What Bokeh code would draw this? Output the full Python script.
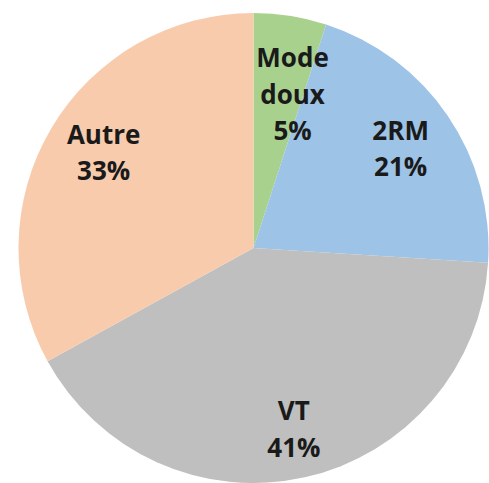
import math
from bokeh.plotting import figure
from bokeh.models import ColumnDataSource, Range1d
from bokeh.core.properties import value
from bokeh.embed import file_html
from bokeh.resources import INLINE

# ---- data ----
categories = ["Mode doux", "2RM", "VT", "Autre"]
label_words = [["Mode", "doux"], ["2RM"], ["VT"], ["Autre"]]
shares = [5, 21, 41, 33]
colors = ["#A9D18E", "#9DC3E6", "#BFBFBF", "#F8CBAD"]

# ---- layout (label placement, not data) ----
label_r = [0.677, 0.757, 0.787, 0.757]
label_nudge_deg = [5.2, 0.0, 0.0, 2.0]
line_step = 36.5
R = 235.0
CX, CY = 253.0, 247.5   # pie centre in page pixels

total = float(sum(shares))
starts, ends, mids = [], [], []
cum = 0.0
for s in shares:
    a0 = cum / total
    cum += s
    a1 = cum / total
    starts.append(math.pi / 2 - a1 * 2 * math.pi)
    ends.append(math.pi / 2 - a0 * 2 * math.pi)
    mids.append((a0 + a1) / 2 * 360.0)

wedges = ColumnDataSource(dict(x=[0] * len(shares), y=[0] * len(shares),
                               start=starts, end=ends, color=colors))

tx, ty, tt, toff = [], [], [], []
for i, cat in enumerate(categories):
    ang = math.radians(mids[i] + label_nudge_deg[i])
    cx = R * label_r[i] * math.sin(ang)
    cy = R * label_r[i] * math.cos(ang)
    lines = label_words[i] + ["%d%%" % shares[i]]
    n = len(lines)
    for k, ln in enumerate(lines):
        tx.append(cx)
        ty.append(cy)
        tt.append(ln)
        toff.append((k - (n - 1) / 2.0) * line_step)

labels = ColumnDataSource(dict(x=tx, y=ty, text=tt, yoff=toff))

W, H = 489, 483
p = figure(width=W, height=H, output_backend="svg", toolbar_location=None,
           x_range=Range1d(-CX, W - CX), y_range=Range1d(CY - H, CY),
           min_border=0)
p.axis.visible = False
p.grid.visible = False
p.outline_line_color = None
p.background_fill_color = "white"
p.border_fill_color = "white"

p.wedge(x="x", y="y", radius=R, start_angle="start", end_angle="end",
        fill_color="color", line_color=None, source=wedges)

p.text(x="x", y="y", text="text", y_offset="yoff", source=labels,
       text_font=value("Open Sans"), text_font_style="bold",
       text_font_size="26px", text_color="#1A1A1A",
       text_align="center", text_baseline="middle")

open("out.html", "w").write(file_html(p, INLINE))
